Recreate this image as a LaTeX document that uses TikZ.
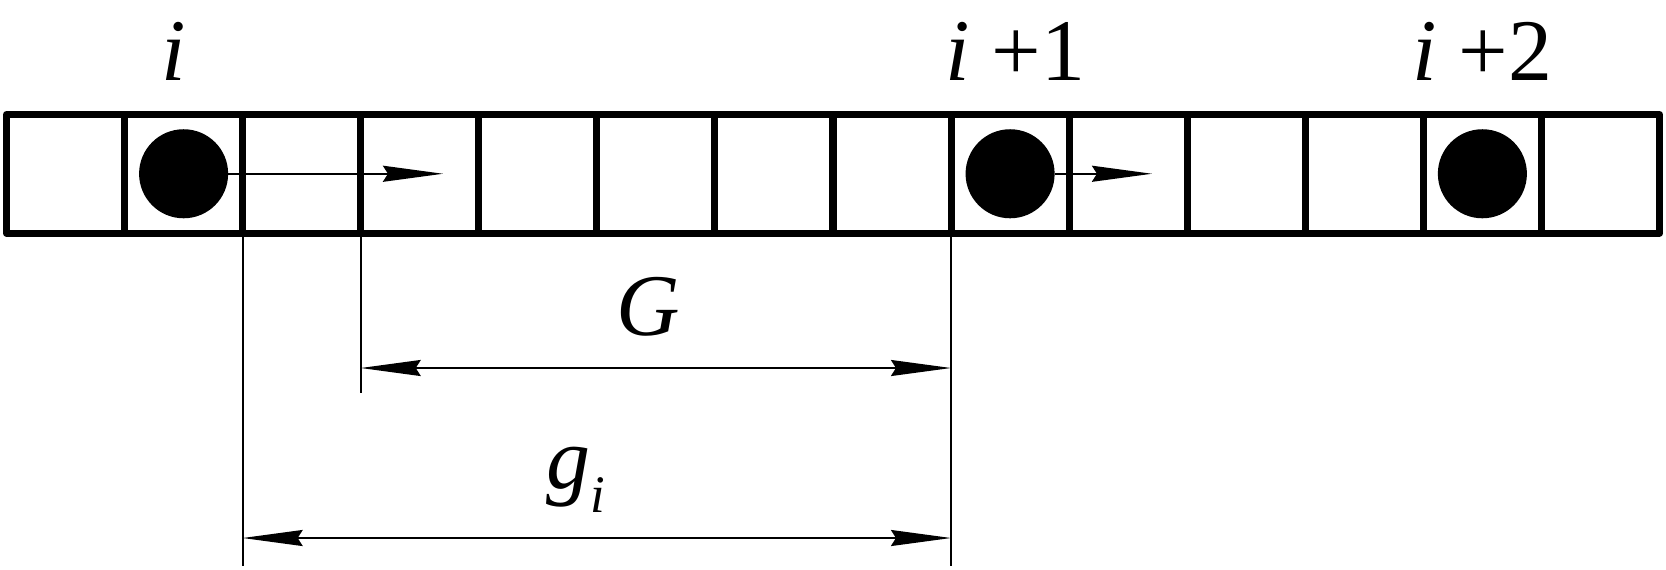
\documentclass[tikz,border=0pt]{standalone}
\usepackage{fontspec}
\setmainfont{Liberation Serif}
\usetikzlibrary{arrows.meta}
\tikzstyle{cell}=[draw=black,line width=2pt,line join=round,minimum width=1.1807cm,minimum height=1.185cm,inner sep=0pt,outer sep=0pt]
\tikzstyle{particle}=[circle,fill=black,minimum size=0.89cm,inner sep=0pt,outer sep=0pt]
\tikzstyle{move}=[line width=0.57pt,-{Stealth[length=0.6cm,width=0.16cm,inset=0.05cm]}]
\tikzstyle{dim}=[line width=0.57pt,{Stealth[length=0.6cm,width=0.16cm,inset=0.05cm]}-{Stealth[length=0.6cm,width=0.16cm,inset=0.05cm]}]
\tikzstyle{ext}=[line width=0.57pt]
\tikzstyle{lbl}=[inner sep=0pt,font=\fontsize{25}{30}\selectfont]

\begin{document}
\begin{tikzpicture}[x=0.01cm,y=-0.01cm]
	\useasboundingbox (0,0) rectangle (1666,569);

	\foreach \k in {0,...,13}
		\node [cell] (c\k) at ({65.54+118.07*\k},173.75) {};

	\node [particle] (p1) at (c1) {};
	\node [particle] (p2) at (c8) {};
	\node [particle] (p3) at (c12) {};

	\coordinate (t1) at (443,173.75);
	\coordinate (t2) at (1152,173.75);
	\draw [move] (p1) -- (t1);
	\draw [move] (p2) -- (t2);

	\coordinate (e1) at (c2.south west |- 0,566);
	\coordinate (e2) at (c3.south west |- 0,393);
	\coordinate (e3) at (c8.south west |- 0,566);
	\draw [ext] (c2.south west) -- (e1);
	\draw [ext] (c3.south west) -- (e2);
	\draw [ext] (c8.south west) -- (e3);

	\coordinate (Ga) at (c3.south west |- 0,368);
	\coordinate (Gb) at (c8.south west |- 0,368);
	\coordinate (ga) at (c2.south west |- 0,538);
	\coordinate (gb) at (c8.south west |- 0,538);
	\draw [dim] (Ga) -- (Gb);
	\draw [dim] (ga) -- (gb);

	\node [lbl,anchor=base] (li) at (174,80) {\textit{i}};
	\node [lbl,anchor=base] (li1) at (1015,80) {\textit{i} +1};
	\node [lbl,anchor=base] (li2) at (1482,80) {\textit{i} +2};
	\node [lbl,anchor=base] (lG) at (648,335) {\textit{G}};
	\node [lbl,anchor=base west] (lg) at (546,488) {\textit{g}\raisebox{-0.28em}{\fontsize{15}{18}\selectfont\textit{i}}};
\end{tikzpicture}
\end{document}
